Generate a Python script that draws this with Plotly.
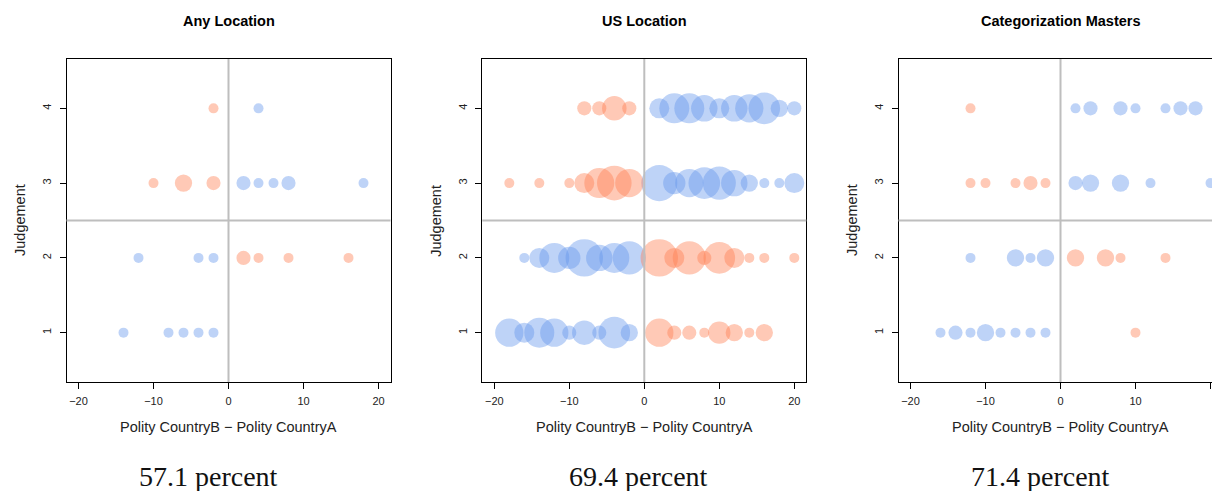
import math
import plotly.graph_objects as go

# ---------------- data ----------------
PANEL_TITLES = ["Any Location", "US Location", "Categorization Masters"]
PERCENT_LABELS = ["57.1 percent", "69.4 percent", "71.4 percent"]
X_TICKS = [-20, -10, 0, 10, 20]
Y_TICKS = [1, 2, 3, 4]
X_TITLE = "Polity CountryB \u2212 Polity CountryA"
Y_TITLE = "Judgement"

# Panel 1: Any Location
any_correct_x = [4, 2, 4, 6, 8, 18, -12, -4, -2, -14, -8, -6, -4, -2]
any_correct_y = [4, 3, 3, 3, 3, 3, 2, 2, 2, 1, 1, 1, 1, 1]
any_correct_n = [1, 2, 1, 1, 2, 1, 1, 1, 1, 1, 1, 1, 1, 1]
any_wrong_x = [-2, -10, -6, -2, 2, 4, 8, 16]
any_wrong_y = [4, 3, 3, 3, 2, 2, 2, 2]
any_wrong_n = [1, 1, 3, 2, 2, 1, 1, 1]

# Panel 2: US Location
us_correct_x = [2, 4, 6, 8, 10, 12, 14, 16, 18, 20,
                2, 4, 6, 8, 10, 12, 14, 16, 18, 20,
                -16, -14, -12, -10, -8, -6, -4, -2,
                -18, -16, -14, -12, -10, -8, -6, -4, -2]
us_correct_y = [4, 4, 4, 4, 4, 4, 4, 4, 4, 4,
                3, 3, 3, 3, 3, 3, 3, 3, 3, 3,
                2, 2, 2, 2, 2, 2, 2, 2,
                1, 1, 1, 1, 1, 1, 1, 1, 1]
us_correct_n = [4, 9, 9, 7, 4, 7, 8, 10, 3, 2,
                13, 5, 8, 10, 11, 7, 3, 1, 1, 4,
                1, 4, 9, 5, 14, 7, 9, 11,
                8, 4, 9, 8, 2, 6, 2, 10, 3]
us_wrong_x = [-8, -6, -4, -2,
              -18, -14, -10, -8, -6, -4, -2,
              2, 4, 6, 8, 10, 12, 14, 16, 20,
              2, 4, 6, 8, 10, 12, 14, 16]
us_wrong_y = [4, 4, 4, 4,
              3, 3, 3, 3, 3, 3, 3,
              2, 2, 2, 2, 2, 2, 2, 2, 2,
              1, 1, 1, 1, 1, 1, 1, 1]
us_wrong_n = [2, 2, 6, 2,
              1, 1, 1, 4, 9, 12, 8,
              14, 4, 11, 2, 10, 4, 1, 1, 1,
              8, 2, 2, 1, 5, 3, 1, 3]

# Panel 3: Categorization Masters
cm_correct_x = [2, 4, 8, 10, 14, 16, 18,
                2, 4, 8, 12, 20,
                -12, -6, -4, -2,
                -16, -14, -12, -10, -8, -6, -4, -2]
cm_correct_y = [4, 4, 4, 4, 4, 4, 4,
                3, 3, 3, 3, 3,
                2, 2, 2, 2,
                1, 1, 1, 1, 1, 1, 1, 1]
cm_correct_n = [1, 2, 2, 1, 1, 2, 2,
                2, 3, 3, 1, 1,
                1, 3, 1, 3,
                1, 2, 1, 3, 1, 1, 1, 1]
cm_wrong_x = [-12, -12, -10, -6, -4, -2, 2, 6, 8, 14, 10]
cm_wrong_y = [4, 3, 3, 3, 3, 3, 2, 2, 2, 2, 1]
cm_wrong_n = [1, 1, 1, 1, 2, 1, 3, 3, 1, 1, 1]

panels = [
    (any_correct_x, any_correct_y, any_correct_n, any_wrong_x, any_wrong_y, any_wrong_n),
    (us_correct_x, us_correct_y, us_correct_n, us_wrong_x, us_wrong_y, us_wrong_n),
    (cm_correct_x, cm_correct_y, cm_correct_n, cm_wrong_x, cm_wrong_y, cm_wrong_n),
]

# ---------------- layout geometry ----------------
W, H = 1212, 491
PX_PER_X = 7.5
left_px = [66.5, 482.3, 898.5]
plot_w = 324.0
top_px, bot_px = 59.0, 382.0
XR = [-21.6, 21.6]
YR = [0.34, 4.66]

BLUE = "rgba(100,149,237,0.6)"
ORANGE = "rgba(255,127,80,0.6)"
GRAY = "#BEBEBE"
SANS = "Liberation Sans, Arial, Helvetica, sans-serif"
SERIF = "Liberation Serif, Times New Roman, serif"
D0 = 10.0  # marker diameter for one observation


def sizes(ns):
    return [D0 * math.sqrt(n) for n in ns]


fig = go.Figure()
annotations = []
shapes = []
ydom = [1 - bot_px / H, 1 - top_px / H]

for i, (cx, cy, cn, wx, wy, wn) in enumerate(panels):
    k = "" if i == 0 else str(i + 1)
    xa, ya = "x" + k, "y" + k
    x0 = left_px[i]
    x1 = min(x0 + plot_w, W)
    xrange = [XR[0], XR[0] + (x1 - x0) / PX_PER_X]
    fig.add_trace(go.Scatter(x=cx, y=cy, mode="markers", xaxis=xa, yaxis=ya,
                             marker=dict(size=sizes(cn), color=BLUE, line=dict(width=0)),
                             showlegend=False, hoverinfo="x+y"))
    fig.add_trace(go.Scatter(x=wx, y=wy, mode="markers", xaxis=xa, yaxis=ya,
                             marker=dict(size=sizes(wn), color=ORANGE, line=dict(width=0)),
                             showlegend=False, hoverinfo="x+y"))
    common = dict(showgrid=False, zeroline=False, showline=True, mirror=True,
                  linecolor="black", linewidth=1, ticks="outside", ticklen=6,
                  tickcolor="black", tickwidth=1,
                  tickfont=dict(family=SANS, size=11, color="#222"))
    fig.layout["xaxis" + k] = dict(domain=[x0 / W, x1 / W], range=xrange,
                                   tickvals=X_TICKS, anchor=ya, ticklabelstandoff=3,
                                   **common)
    fig.layout["yaxis" + k] = dict(domain=ydom, range=YR, tickvals=Y_TICKS,
                                   tickangle=-90, anchor=xa, ticklabelstandoff=4,
                                   **common)
    # reference lines
    shapes.append(dict(type="line", xref=xa, yref=ya + " domain", x0=0, x1=0, y0=0, y1=1,
                       line=dict(color=GRAY, width=2), layer="above"))
    shapes.append(dict(type="line", xref=xa + " domain", yref=ya, x0=0, x1=1, y0=2.5, y1=2.5,
                       line=dict(color=GRAY, width=2), layer="above"))
    cx_px = x0 + plot_w / 2
    annotations.append(dict(text="<b>" + PANEL_TITLES[i] + "</b>", xref="paper", yref="paper",
                            x=cx_px / W, y=1 - 21 / H, showarrow=False,
                            xanchor="center", yanchor="middle",
                            font=dict(family=SANS, size=14.5, color="black")))
    annotations.append(dict(text=X_TITLE, xref="paper", yref="paper",
                            x=cx_px / W, y=1 - 427 / H, showarrow=False,
                            xanchor="center", yanchor="middle",
                            font=dict(family=SANS, size=14.5, color="#222")))
    annotations.append(dict(text=Y_TITLE, xref="paper", yref="paper",
                            x=(x0 - 46) / W, y=1 - (top_px + bot_px) / 2 / H, showarrow=False,
                            textangle=-90, xanchor="center", yanchor="middle",
                            font=dict(family=SANS, size=14.5, color="#222")))

pct_cx = [208, 638, 1040]
for i, lab in enumerate(PERCENT_LABELS):
    annotations.append(dict(text=lab, xref="paper", yref="paper",
                            x=pct_cx[i] / W, y=1 - 476 / H, showarrow=False,
                            xanchor="center", yanchor="middle",
                            font=dict(family=SERIF, size=28, color="#111")))

fig.update_layout(width=W, height=H, margin=dict(l=0, r=0, t=0, b=0),
                  paper_bgcolor="white", plot_bgcolor="white",
                  annotations=annotations, shapes=shapes, showlegend=False)

fig.write_html("out.html", config={"displayModeBar": False},
               post_script="document.body.style.margin='0';"
                           "document.body.style.overflow='hidden';")
